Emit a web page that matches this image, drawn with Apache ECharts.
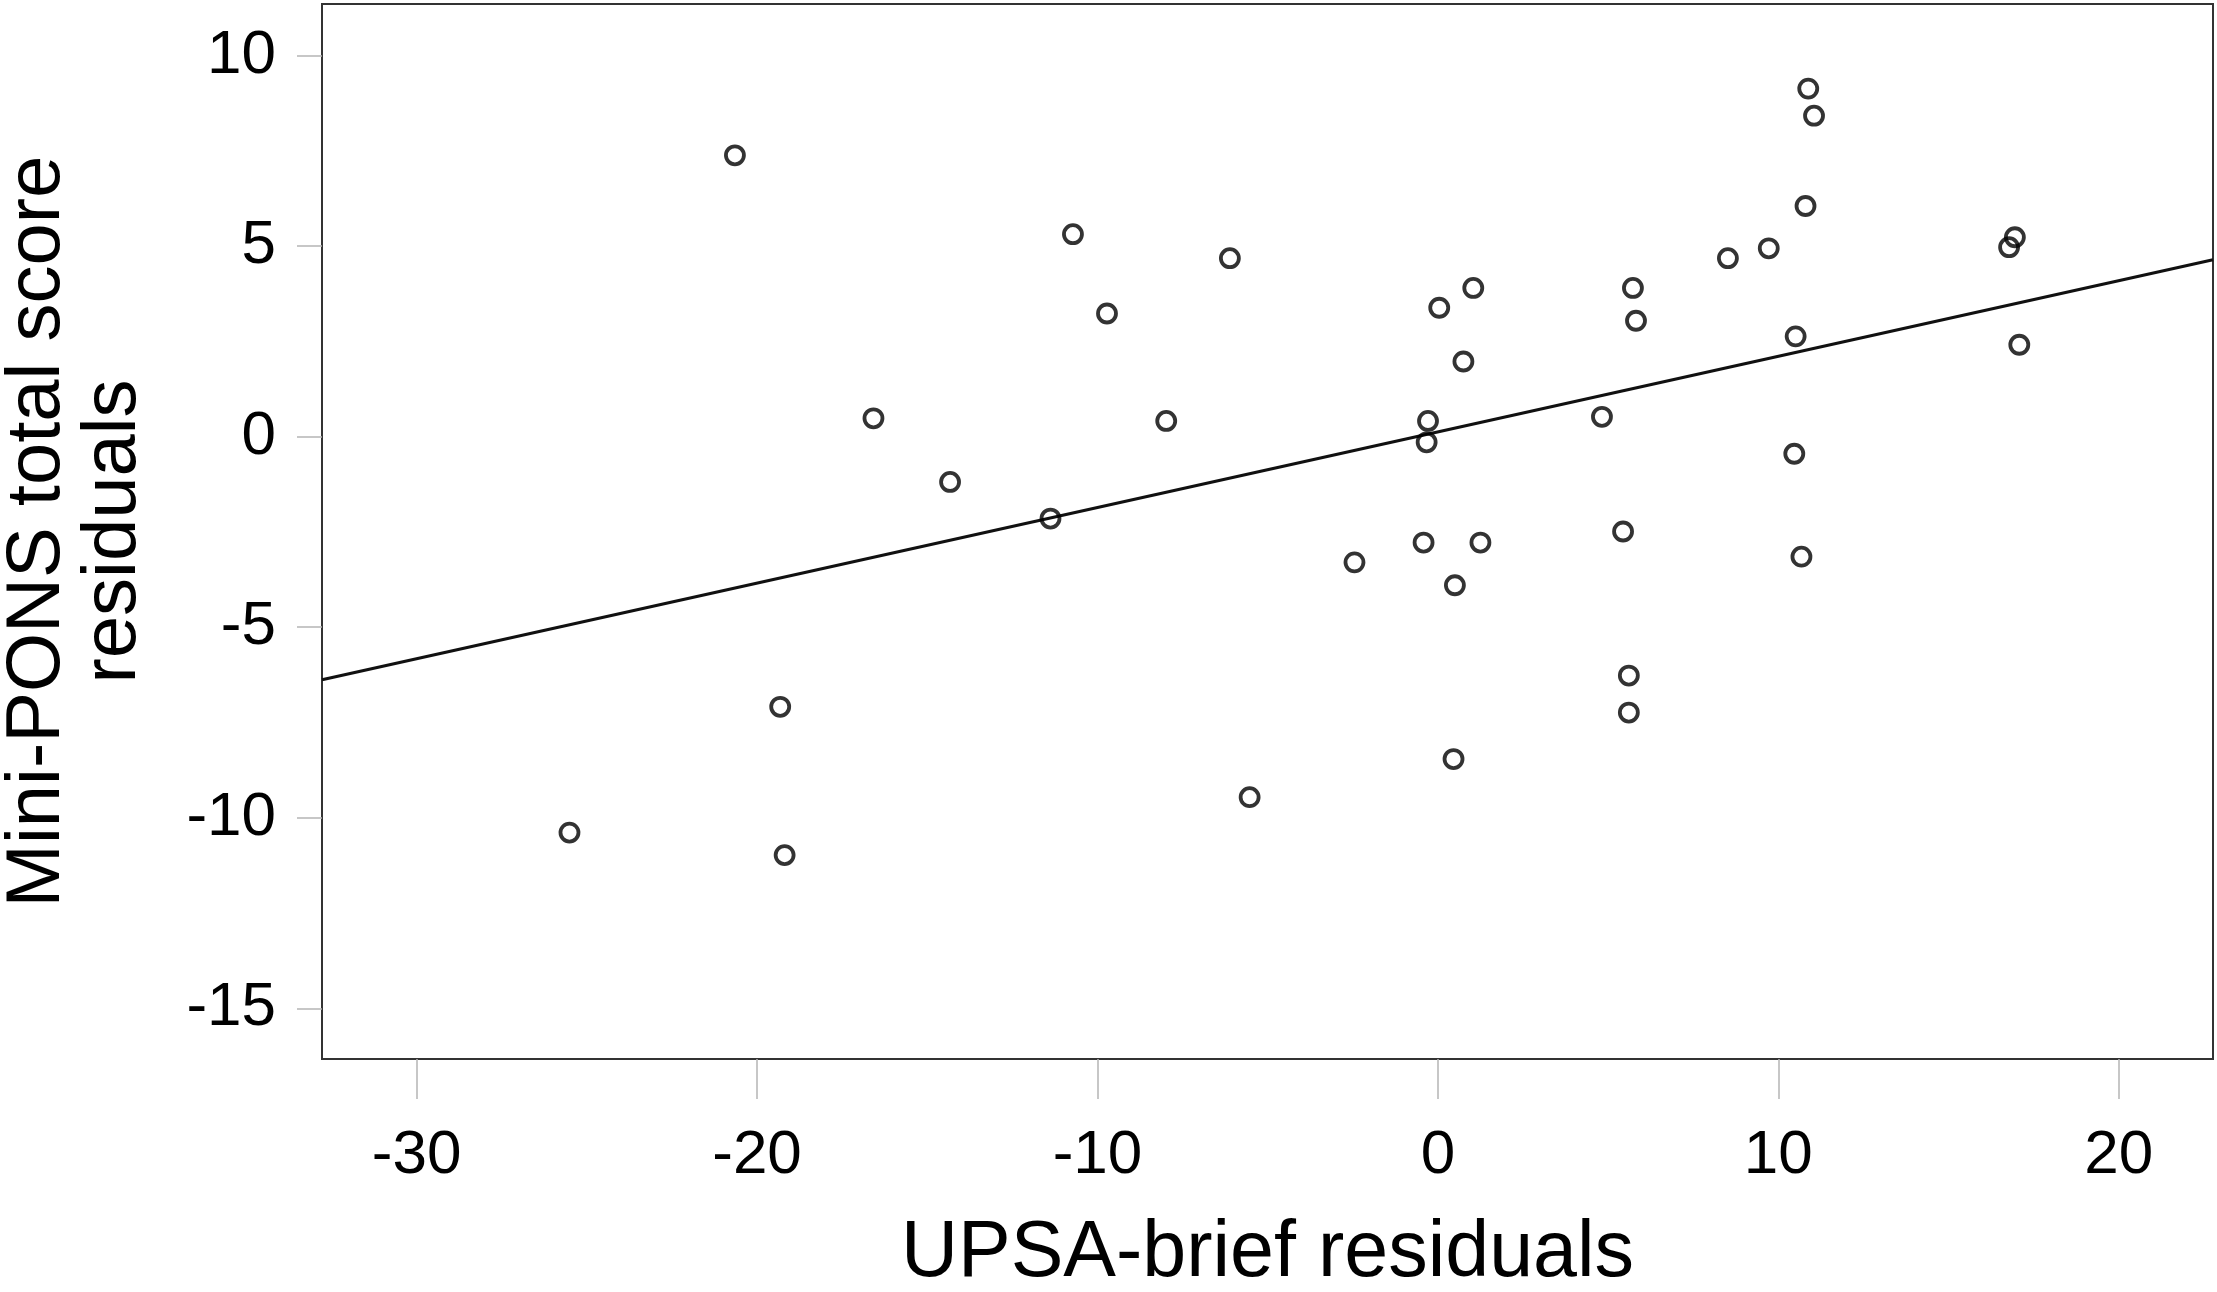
<!DOCTYPE html>
<html>
<head>
<meta charset="utf-8">
<title>Mini-PONS vs UPSA-brief residuals</title>
<script src="https://cdn.jsdelivr.net/npm/echarts@6/dist/echarts.min.js"></script>
<style>
  html, body { margin: 0; padding: 0; background: #fff; }
  #chart { width: 2217px; height: 1292px; }
</style>
</head>
<body>
<div id="chart"></div>
<script>
// residuals
var upsaResiduals = [
    -25.51, -20.65, -19.32, -19.19, -16.58, -14.33, -11.38, -10.72, -9.72, -7.98,
    -6.11, -5.53, -2.45, -0.42, -0.29, -0.33, 0.04, 0.50, 0.46, 0.75,
    1.04, 1.25, 4.82, 5.44, 5.61, 5.61, 5.73, 5.82, 8.52, 9.72,
    10.51, 10.47, 10.68, 10.80, 10.88, 11.05, 16.78, 16.95, 17.08
];
var ponsResiduals = [
    -10.39, 7.38, -7.09, -10.98, 0.48, -1.19, -2.15, 5.31, 3.23, 0.41,
    4.68, -9.46, -3.30, -2.78, 0.41, -0.15, 3.38, -3.90, -8.46, 1.97,
    3.90, -2.78, 0.52, -2.49, -6.27, -7.24, 3.90, 3.04, 4.68, 4.94,
    2.63, -0.45, -3.15, 6.05, 9.13, 8.42, 4.97, 5.23, 2.41
];

// fitted line, ends at the frame edges
var fitX = [-32.78, 22.77];
var fitY = [-6.38, 4.64];

var xTicks = [-30, -20, -10, 0, 10, 20];
var yTicks = [-15, -10, -5, 0, 5, 10];

var xRange = [-32.78, 22.77];
var yRange = [-16.33, 11.35];

var points = upsaResiduals.map(function (x, i) { return [x, ponsResiduals[i]]; });
var fitLine = fitX.map(function (x, i) { return [x, fitY[i]]; });

var font = '"Liberation Sans", Arial, sans-serif';

var myChart = echarts.init(document.getElementById('chart'));
myChart.setOption({
    animation: false,
    backgroundColor: '#fff',
    grid: {
        left: 322,
        right: 4,
        top: 4,
        bottom: 233,
        outerBoundsMode: 'none',
        containLabel: false,
        show: true,
        borderColor: '#333',
        borderWidth: 2
    },
    xAxis: {
        type: 'value',
        min: xRange[0],
        max: xRange[1],
        splitLine: { show: false },
        axisLine: { show: true, onZero: false, lineStyle: { color: '#333', width: 2 } },
        axisTick: {
            show: true,
            customValues: xTicks,
            length: 40,
            lineStyle: { color: '#b5b5b5', width: 1.5 }
        },
        axisLabel: {
            customValues: xTicks,
            fontSize: 62,
            color: '#000',
            fontFamily: font,
            margin: 66
        },
        name: 'UPSA-brief residuals',
        nameLocation: 'middle',
        nameGap: 156,
        nameTextStyle: { fontSize: 79, color: '#000', fontFamily: font }
    },
    yAxis: {
        type: 'value',
        min: yRange[0],
        max: yRange[1],
        splitLine: { show: false },
        axisLine: { show: true, onZero: false, lineStyle: { color: '#333', width: 2 } },
        axisTick: {
            show: true,
            customValues: yTicks,
            length: 25,
            lineStyle: { color: '#b5b5b5', width: 1.5 }
        },
        axisLabel: {
            customValues: yTicks,
            fontSize: 62,
            color: '#000',
            fontFamily: font,
            margin: 46
        },
        name: 'Mini-PONS total score\nresiduals',
        nameLocation: 'middle',
        nameGap: 170,
        nameTextStyle: { fontSize: 76, lineHeight: 76, color: '#000', fontFamily: font }
    },
    series: [
        {
            name: 'fit',
            type: 'line',
            data: fitLine,
            symbol: 'none',
            silent: true,
            lineStyle: { color: '#111', width: 3.2 },
            z: 2
        },
        {
            name: 'residuals',
            type: 'scatter',
            data: points,
            symbol: 'circle',
            symbolSize: 18,
            itemStyle: { color: 'rgba(255,255,255,0)', borderColor: '#000', borderWidth: 3.8 },
            z: 3
        }
    ]
});
</script>
</body>
</html>
